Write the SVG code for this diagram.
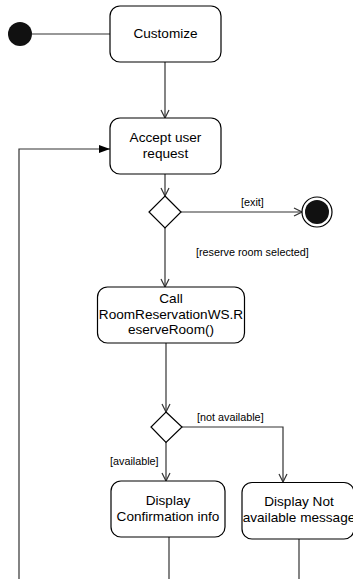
<svg xmlns="http://www.w3.org/2000/svg" width="353" height="579" viewBox="0 0 353 579">
<style>
.node{fill:#fff;stroke:#000;stroke-width:1.2}
.t{font-family:"Liberation Sans",Arial,sans-serif;font-size:13.6px;fill:#000;text-anchor:middle}
.l{font-family:"Liberation Sans",Arial,sans-serif;font-size:10.8px;fill:#000}
.c{fill:none;stroke:#333;stroke-width:1.2}
</style>
<defs>
<marker id="open" viewBox="0 0 10 10" refX="9" refY="5" markerWidth="10" markerHeight="10" markerUnits="userSpaceOnUse" orient="auto">
<path d="M1,1 L9,5 L1,9" fill="none" stroke="#333" stroke-width="1.2"/>
</marker>
<marker id="filled" viewBox="0 0 12 10" refX="11" refY="5" markerWidth="12" markerHeight="10" markerUnits="userSpaceOnUse" orient="auto">
<path d="M0,1 L11,5 L0,9 Z" fill="#000"/>
</marker>
</defs>
<g id="connectors">
<path class="c" d="M32,34 H110"/>
<path class="c" d="M165,62 V118" marker-end="url(#open)"/>
<path class="c" d="M165,174 V196" marker-end="url(#open)"/>
<path class="c" d="M181,212 H302" marker-end="url(#open)"/>
<path class="c" d="M165,228 V287" marker-end="url(#open)"/>
<path class="c" d="M166,343 V412" marker-end="url(#open)"/>
<path class="c" d="M182,427 H283 V482" marker-end="url(#open)"/>
<path class="c" d="M166,442 V481" marker-end="url(#open)"/>
<path class="c" d="M169,537 V579"/>
<path class="c" d="M299,539 V579"/>
<path class="c" d="M19,579 V149 H110" marker-end="url(#filled)"/>
<text class="l" x="241" y="206">[exit]</text>
<text class="l" x="196" y="256">[reserve room selected]</text>
<text class="l" x="197" y="421">[not available]</text>
<text class="l" x="110" y="465">[available]</text>
</g>
<g id="start"><circle cx="20" cy="34" r="12" fill="#111"/></g>
<g id="customize"><rect class="node" x="110" y="6" width="111" height="56" rx="10"/><text class="t" x="165.5" y="38">Customize</text></g>
<g id="accept"><rect class="node" x="110" y="118" width="111" height="56" rx="10"/><text class="t" x="165.5" y="142">Accept user</text><text class="t" x="165.5" y="158">request</text></g>
<g id="decision1"><path class="node" d="M165,196 L181,212 L165,228 L149,212 Z"/></g>
<g id="final"><circle cx="317" cy="212" r="15" fill="#fff" stroke="#000" stroke-width="1.2"/><circle cx="317" cy="212" r="12" fill="#111"/></g>
<g id="call"><rect class="node" x="97.5" y="287" width="147" height="56" rx="10"/><text class="t" x="171" y="302.5">Call</text><text class="t" x="171" y="318.5">RoomReservationWS.R</text><text class="t" x="171" y="334">eserveRoom()</text></g>
<g id="decision2"><path class="node" d="M166,412 L182,427 L166,442.5 L151,427 Z"/></g>
<g id="confirm"><rect class="node" x="111" y="481" width="114" height="56" rx="10"/><text class="t" x="168" y="505">Display</text><text class="t" x="168" y="521">Confirmation info</text></g>
<g id="notavail"><rect class="node" x="242" y="482.5" width="112" height="56.5" rx="10"/><text class="t" x="299" y="506">Display Not</text><text class="t" x="299" y="522">available message</text></g>
</svg>
